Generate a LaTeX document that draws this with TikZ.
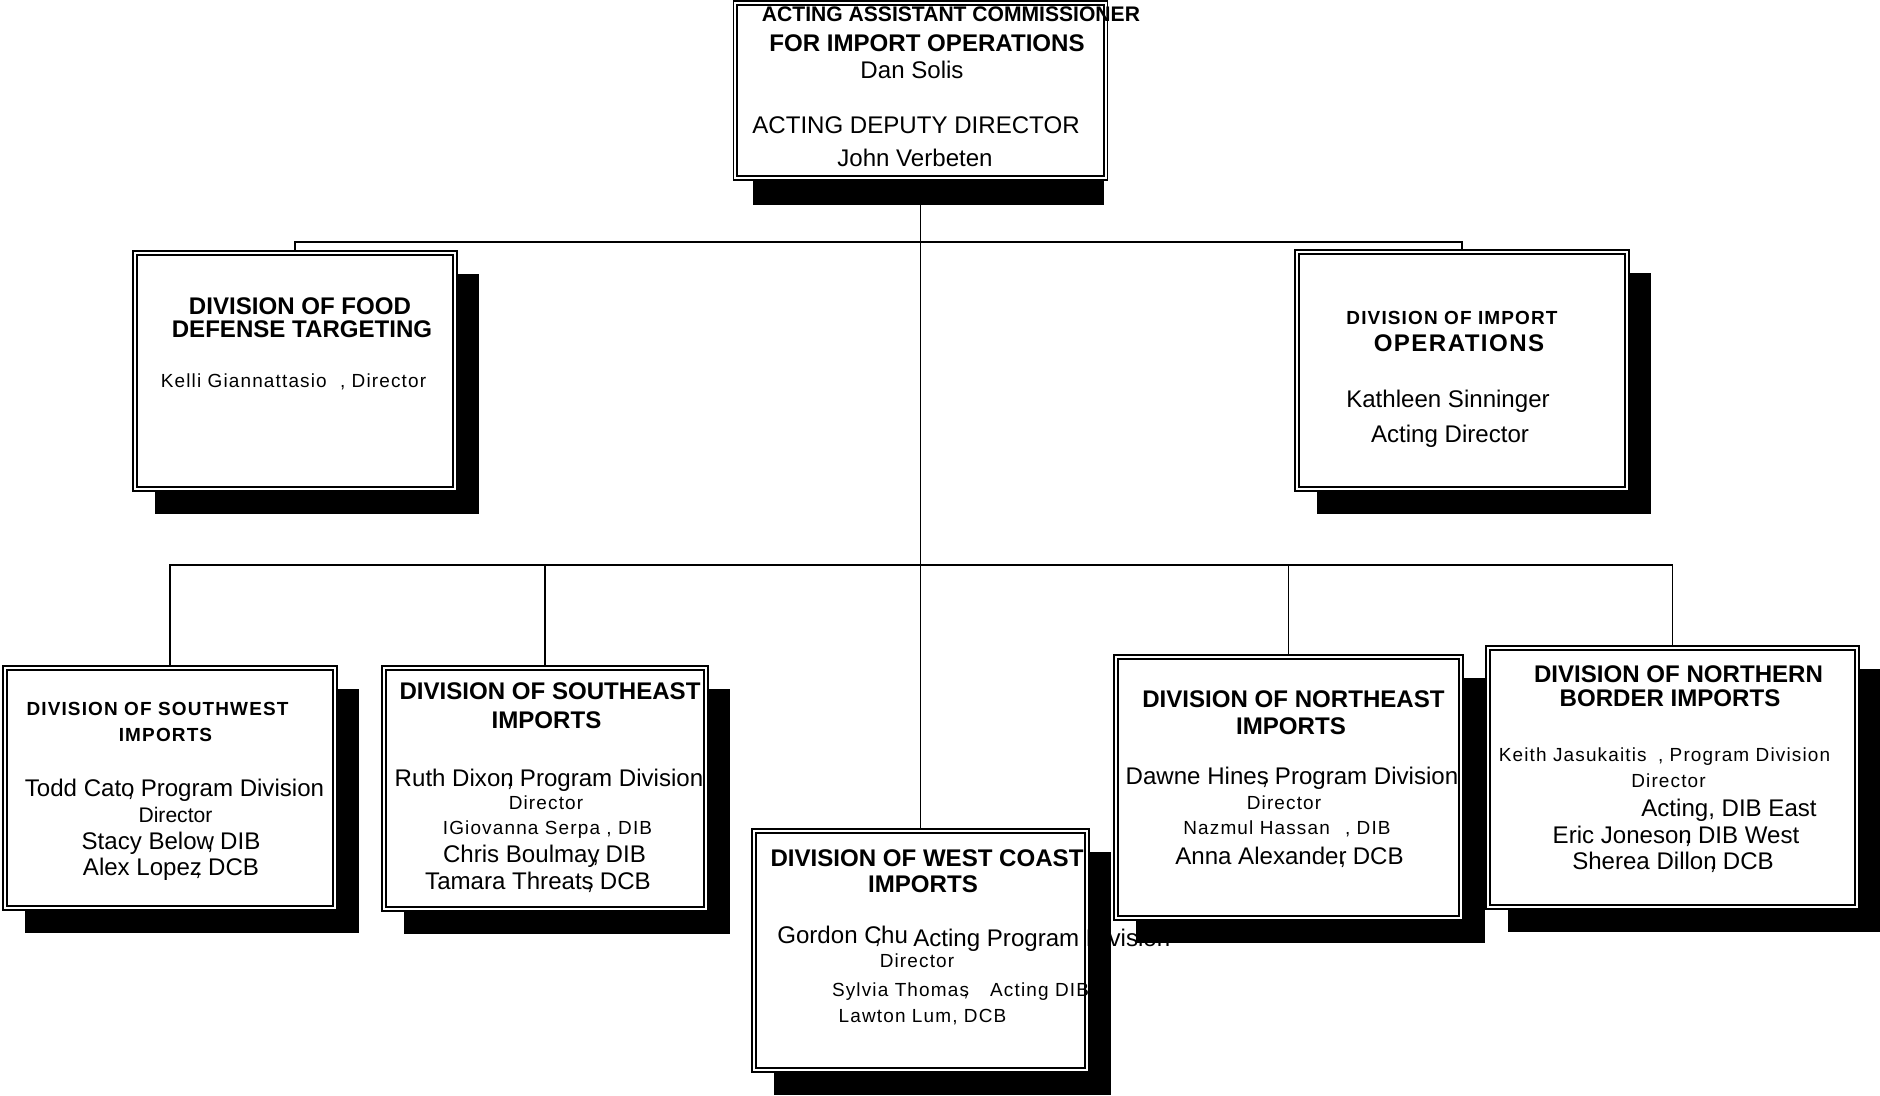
\documentclass[tikz,border=0pt]{standalone}
\usepackage{fontspec}
\setmainfont{Liberation Sans}
\newfontfamily\spacedsans[LetterSpace=6]{Liberation Sans}
\usetikzlibrary{shadows}
\newcommand{\tuckcomma}{\kern-.3em,}

\begin{document}
\begin{tikzpicture}[
    link/.style={draw=black, line width=0.85pt},
    unit frame/.style={draw=black, line width=0.75pt, fill=white, inner sep=0pt},
    unit/.style={unit frame, drop shadow={shadow xshift=0.44cm,
        shadow yshift=-0.46cm, fill=black, opacity=1}},
    inner frame/.style={draw=black, line width=1.15pt},
    title/.style={anchor=base, inner sep=0pt,
        font=\fontsize{13.7}{16}\selectfont\bfseries},
    title small/.style={title,
        font=\spacedsans\fontsize{10.8}{13}\selectfont\bfseries},
    person/.style={anchor=base, inner sep=0pt,
        font=\fontsize{13.7}{16}\selectfont},
    person small/.style={person,
        font=\spacedsans\fontsize{10.8}{13}\selectfont}
]
    \path[use as bounding box] (0,0) rectangle (37.6,21.9);

    % The office at the top, with its own short shadow.
    \fill[black] (15.06,17.80) rectangle (22.08,18.40);
    \node[unit frame, minimum width=7.48cm, minimum height=3.58cm] (top) at (18.41,20.09) {};

    % The two divisions beside the office.
    \node[unit, minimum width=6.48cm, minimum height=4.80cm] (food) at (5.90,14.48) {};
    \node[unit, minimum width=6.68cm, minimum height=4.82cm] (ops) at (29.24,14.49) {};

    % The five field divisions.
    \node[unit, minimum width=6.68cm, minimum height=4.88cm] (sw) at (3.40,6.14) {};
    \node[unit, minimum width=6.52cm, minimum height=4.90cm] (se) at (10.90,6.13) {};
    \node[unit, minimum width=6.74cm, minimum height=4.86cm] (wc) at (18.41,2.89) {};
    \node[unit, minimum width=6.98cm, minimum height=5.30cm] (ne) at (25.77,6.15) {};
    \node[unit, minimum width=7.46cm, minimum height=5.26cm] (nb) at (33.45,6.35) {};

    \foreach \u in {top,food,ops,sw,se,wc,ne,nb}
        \draw[inner frame] ([shift={(0.09cm,0.09cm)}]\u.south west)
            rectangle ([shift={(-0.09cm,-0.09cm)}]\u.north east);

    % Reporting lines.
    \coordinate (bus1) at (18.41,17.06);
    \coordinate (bus2) at (18.41,10.60);
    \draw[link] (top.south) -- (wc.north);
    \draw[link] (food.north) |- (bus1) -| (ops.north);
    \draw[link] (sw.north) |- (bus2) -| (nb.north);
    \draw[link] (se.north) |- (bus2);
    \draw[link] (ne.north) |- (bus2);

    % Texts of the top office.
    \node[title, font=\fontsize{12}{14}\selectfont\bfseries] (top-1) at (19.02,21.46) {ACTING ASSISTANT COMMISSIONER};
    \node[title] (top-2) at (18.54,20.86) {FOR IMPORT OPERATIONS};
    \node[person] (top-3) at (18.24,20.32) {Dan Solis};
    \node[person] (top-4) at (18.32,19.22) {ACTING DEPUTY DIRECTOR};
    \node[person] (top-5) at (18.30,18.56) {John Verbeten};

    % Food defense targeting.
    \node[title] (food-1) at (6.00,15.60) {DIVISION OF FOOD};
    \node[title] (food-2) at (6.04,15.14) {DEFENSE TARGETING};
    \node[person small] (food-3) at (5.87,14.14) {Kelli Giannattasio\hspace{0.7em}, Director};

    % Import operations.
    \node[title small] (ops-1) at (29.04,15.40) {DIVISION OF IMPORT};
    \node[title, font=\spacedsans\fontsize{13.7}{16}\selectfont\bfseries] (ops-2) at (29.18,14.86) {OPERATIONS};
    \node[person] (ops-3) at (28.96,13.74) {Kathleen Sinninger};
    \node[person] (ops-4) at (29.00,13.04) {Acting Director};

    % Southwest.
    \node[title small] (sw-1) at (3.15,7.58) {DIVISION OF SOUTHWEST};
    \node[title small] (sw-2) at (3.31,7.06) {IMPORTS};
    \node[person] (sw-3) at (3.49,5.96) {Todd Cato\tuckcomma{} Program Division};
    \node[person, font=\fontsize{12}{14}\selectfont] (sw-4) at (3.51,5.44) {Director};
    \node[person] (sw-5) at (3.42,4.90) {Stacy Below\tuckcomma{} DIB};
    \node[person] (sw-6) at (3.42,4.38) {Alex Lopez\tuckcomma{} DCB};

    % Southeast.
    \node[title] (se-1) at (11.00,7.90) {DIVISION OF SOUTHEAST};
    \node[title] (se-2) at (10.93,7.32) {IMPORTS};
    \node[person] (se-3) at (10.98,6.16) {Ruth Dixon\tuckcomma{} Program Division};
    \node[person small] (se-4) at (10.92,5.70) {Director};
    \node[person small] (se-5) at (10.95,5.20) {IGiovanna Serpa , DIB};
    \node[person] (se-6) at (10.89,4.64) {Chris Boulmay\tuckcomma{} DIB};
    \node[person] (se-7) at (10.76,4.10) {Tamara Threats\tuckcomma{} DCB};

    % West coast.
    \node[title] (wc-1) at (18.54,4.56) {DIVISION OF WEST COAST};
    \node[title] (wc-2) at (18.46,4.04) {IMPORTS};
    \node[person, anchor=base west] (wc-3) at (15.54,3.04) {Gordon C\tuckcomma hu};
    \node[person, anchor=base west] (wc-4) at (18.26,2.98) {Acting Program Division};
    \node[person small] (wc-5) at (18.34,2.54) {Director};
    \node[person small] (wc-6) at (19.21,1.96) {Sylvia Thomas\tuckcomma\hspace{0.8em} Acting DIB};
    \node[person small] (wc-7) at (18.45,1.46) {Lawton Lum, DCB};

    % Northeast.
    \node[title] (ne-1) at (25.87,7.74) {DIVISION OF NORTHEAST};
    \node[title] (ne-2) at (25.82,7.20) {IMPORTS};
    \node[person] (ne-3) at (25.84,6.20) {Dawne Hines\tuckcomma{} Program Division};
    \node[person small] (ne-4) at (25.68,5.70) {Director};
    \node[person small] (ne-5) at (25.74,5.20) {Nazmul Hassan\hspace{0.8em}, DIB};
    \node[person] (ne-6) at (25.79,4.60) {Anna Alexander\tuckcomma{} DCB};

    % Northern border.
    \node[title] (nb-1) at (33.57,8.24) {DIVISION OF NORTHERN};
    \node[title] (nb-2) at (33.40,7.76) {BORDER IMPORTS};
    \node[person small] (nb-3) at (33.29,6.66) {Keith Jasukaitis\hspace{0.6em}, Program Division};
    \node[person small] (nb-4) at (33.37,6.14) {Director};
    \node[person] (nb-5) at (34.58,5.56) {Acting, DIB East};
    \node[person] (nb-6) at (33.52,5.02) {Eric Joneson\tuckcomma{} DIB West};
    \node[person] (nb-7) at (33.46,4.50) {Sherea Dillon\tuckcomma{} DCB};
\end{tikzpicture}
\end{document}
